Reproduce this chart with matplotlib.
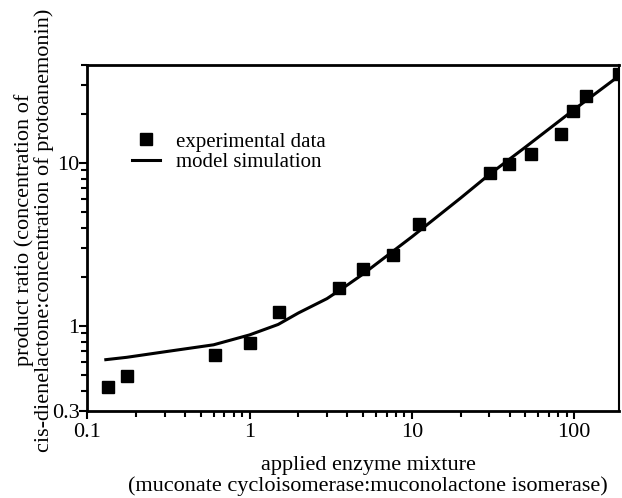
import matplotlib

matplotlib.use("Agg")
import matplotlib.pyplot as plt
from matplotlib.ticker import NullFormatter

exp_x = [0.134, 0.175, 0.61, 1.0, 1.52, 3.57, 5.0, 7.6, 11.1, 30.3, 39.8, 54, 83, 98.7, 119, 190]
exp_y = [0.42, 0.494, 0.662, 0.788, 1.21, 1.71, 2.24, 2.71, 4.25, 8.72, 9.9, 11.3, 15.1, 21, 25.9, 35.2]

# model simulation curve
model_x = [0.13, 0.175, 0.3, 0.6, 1.0, 1.5, 2.0, 3.0, 4.0, 5.0, 10, 20, 30, 50, 100, 190]
model_y = [0.62, 0.641, 0.693, 0.765, 0.88, 1.02, 1.20, 1.47, 1.78, 2.08, 3.52, 6.1, 8.5, 12.5, 21.3, 34.4]

x_ticks = [0.1, 1, 10, 100]
x_labels = ["0.1", "1", "10", "100"]
y_ticks = [0.3, 1, 10]
y_labels = ["0.3", "1", "10"]

plt.rcParams["font.family"] = ["Liberation Serif", "DejaVu Serif"]

fig = plt.figure(figsize=(6.22, 4.98), dpi=100)
ax = fig.add_axes([0.1404, 0.1747, 0.8553, 0.6948])

ax.plot(model_x, model_y, color="black", lw=2.2, label="model simulation", zorder=2)
ax.plot(exp_x, exp_y, "s", color="black", ms=8.5, label="experimental data", zorder=3)

ax.set_xscale("log")
ax.set_yscale("log")
ax.set_xlim(0.1, 190)
ax.set_ylim(0.3, 40)

ax.set_xticks(x_ticks, x_labels)
ax.set_yticks(y_ticks, y_labels)
ax.xaxis.set_minor_formatter(NullFormatter())
ax.yaxis.set_minor_formatter(NullFormatter())

ax.tick_params(which="both", direction="out", top=False, right=False, width=1.5,
               labelsize=16)
ax.tick_params(axis="x", which="major", length=6, pad=3)
ax.tick_params(axis="y", which="major", length=6, pad=-0.5)
ax.tick_params(which="minor", length=4.5)

for side in ["left", "bottom", "top"]:
    ax.spines[side].set_linewidth(2)
ax.spines["right"].set_linewidth(1.5)

handles, labels = ax.get_legend_handles_labels()
ax.legend(handles[::-1], labels[::-1], loc="upper left", bbox_to_anchor=(0.084, 0.806),
          frameon=False, fontsize=15, handlelength=1.35, handletextpad=0.75,
          borderpad=0, borderaxespad=0, labelspacing=0.05, numpoints=1)

fig.text(368 / 622, 1 - 476 / 498,
         "applied enzyme mixture\n(muconate cycloisomerase:muconolactone isomerase)",
         ha="center", va="center", fontsize=16, linespacing=1.1)
fig.text(34 / 622, 1 - 230 / 498,
         "product ratio (concentration of\ncis-dienelactone:concentration of protoanemonin)",
         ha="center", va="center", rotation=90, fontsize=16, linespacing=1.05)

fig.savefig("out.png", dpi=100)
